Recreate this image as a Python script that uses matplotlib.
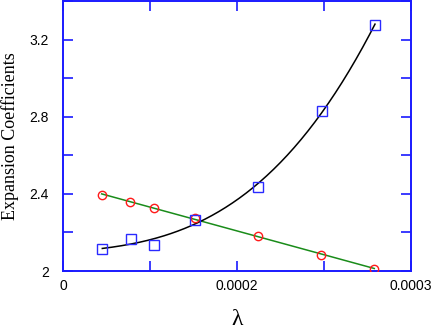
import numpy as np
import matplotlib
matplotlib.use('Agg')
import matplotlib.pyplot as plt
from matplotlib.ticker import MultipleLocator

# Data
LAMBDA_CIRCLES = [4.45e-5, 7.74e-5, 1.046e-4, 1.517e-4, 2.241e-4, 2.966e-4, 3.578e-4]
COEF_CIRCLES = [2.395, 2.358, 2.327, 2.273, 2.183, 2.084, 2.012]

LAMBDA_SQUARES = [4.52e-5, 7.78e-5, 1.046e-4, 1.513e-4, 2.238e-4, 2.973e-4, 3.586e-4]
COEF_SQUARES = [2.112, 2.164, 2.133, 2.267, 2.438, 2.828, 3.278]

XTICK_POS = [0, 0.0002, 0.0004]
XTICK_LABELS = ['0', '0.0002', '0.0003']
YTICK_POS = [2.0, 2.4, 2.8, 3.2]
YTICK_LABELS = ['2', '2.4', '2.8', '3.2']

AXIS_COLOR = '#1a1aff'
SQUARE_COLOR = '#2a2aff'
CIRCLE_COLOR = '#ff1a1a'
LINE_GREEN = '#1a8c1a'

fig = plt.figure(figsize=(4.36, 3.34), dpi=100)
ax = fig.add_axes([0.1445, 0.1886, 0.7982, 0.8084])

# fitted lines
xc = np.array(LAMBDA_CIRCLES)
yc = np.array(COEF_CIRCLES)
pc = np.polyfit(xc, yc, 1)
xx = np.linspace(xc.min(), xc.max(), 100)
ax.plot(xx, np.polyval(pc, xx), color=LINE_GREEN, lw=1.1, zorder=2)

xs = np.array(LAMBDA_SQUARES)
ys = np.array(COEF_SQUARES)
ps = np.polyfit(xs, ys, 3)
xx = np.linspace(xs.min(), xs.max(), 200)
ax.plot(xx, np.polyval(ps, xx), color='black', lw=1.1, zorder=2)

ax.plot(LAMBDA_CIRCLES, COEF_CIRCLES, 'o', ms=6, mfc='none', mec=CIRCLE_COLOR,
        mew=1.0, zorder=3)
ax.plot(LAMBDA_SQUARES, COEF_SQUARES, 's', ms=7.5, mfc='none', mec=SQUARE_COLOR,
        mew=1.0, zorder=4)

ax.set_xlim(0, 0.0004)
ax.set_ylim(2.0, 3.4)

ax.set_xticks(XTICK_POS)
ax.set_xticklabels(XTICK_LABELS)
ax.xaxis.set_minor_locator(MultipleLocator(0.0001))
ax.set_yticks(YTICK_POS)
ax.set_yticklabels(YTICK_LABELS)
ax.yaxis.set_minor_locator(MultipleLocator(0.2))

for spine in ax.spines.values():
    spine.set_edgecolor(AXIS_COLOR)
    spine.set_linewidth(1.4)

ax.tick_params(axis='both', which='both', direction='in', length=7, width=1.2,
               color=AXIS_COLOR, top=True, right=True)
ax.tick_params(axis='x', which='major', pad=6)
ax.tick_params(axis='y', which='major', pad=10)
for lbl in ax.get_xticklabels() + ax.get_yticklabels():
    lbl.set_fontfamily('Liberation Sans')
    lbl.set_fontsize(10)

ax.set_xlabel('λ', family='Liberation Serif', fontsize=17, labelpad=11)
ax.set_ylabel('Expansion Coefficients', family='Liberation Serif', fontsize=13,
              labelpad=8)

fig.savefig('out.png', dpi=100)
